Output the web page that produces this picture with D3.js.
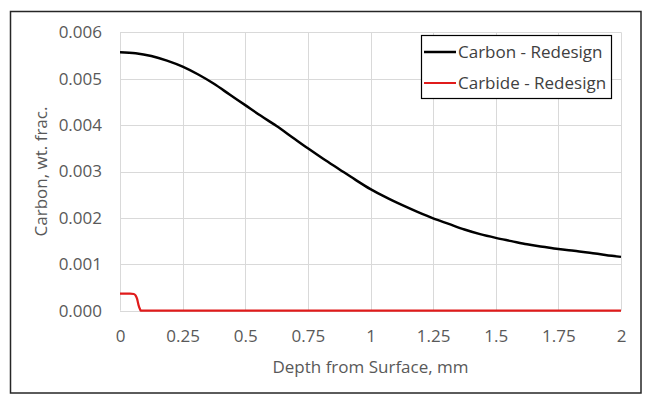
<!DOCTYPE html>
<html><head><meta charset="utf-8">
<script src="https://cdn.jsdelivr.net/npm/d3@7"></script>
<style>
html,body{margin:0;padding:0;background:#fff;}
svg{display:block;}
text{font-family:"Open Sans","Noto Sans",sans-serif;}
</style></head>
<body><svg id="chart" width="647" height="399"></svg>
<script>
const carbonDepth = [0, 0.0625, 0.125, 0.1875, 0.25, 0.3125, 0.375, 0.4375, 0.5, 0.5625, 0.625, 0.6875, 0.75, 0.8125, 0.875, 0.9375, 1.0, 1.0625, 1.125, 1.1875, 1.25, 1.3125, 1.375, 1.4375, 1.5, 1.5625, 1.625, 1.6875, 1.75, 1.8125, 1.875, 1.9375, 2.0];
const carbonValue = [0.00557, 0.00555, 0.00549, 0.00539, 0.00526, 0.00509, 0.00489, 0.00466, 0.00443, 0.00420, 0.00398, 0.00374, 0.00350, 0.00327, 0.00305, 0.00283, 0.00262, 0.00244, 0.00228, 0.00213, 0.00199, 0.00187, 0.00175, 0.00165, 0.00157, 0.00150, 0.00143, 0.00138, 0.00133, 0.00129, 0.00125, 0.00120, 0.00116];
const carbideDepth = [0, 0.04, 0.055, 0.062, 0.068, 0.074, 0.08, 0.083, 0.2, 1.0, 2.0];
const carbideValue = [0.00037, 0.00037, 0.00036, 0.00033, 0.00026, 0.00012, 0.00003, 0, 0, 0, 0];
const xTicks = [0, 0.25, 0.5, 0.75, 1, 1.25, 1.5, 1.75, 2];
const yTicks = [0, 0.001, 0.002, 0.003, 0.004, 0.005, 0.006];
const seriesNames = ["Carbon - Redesign", "Carbide - Redesign"];
const seriesColors = ["#000000", "#e01b1b"];
const xTitle = "Depth from Surface, mm";
const yTitle = "Carbon, wt. frac.";

const svg = d3.select("#chart");
const W = 647, H = 399;
const m = {left:120, right:26, top:32.3, bottom:88.3};
const iw = W - m.left - m.right, ih = H - m.top - m.bottom;
const FS = "17px";

svg.append("rect").attr("x",10.5).attr("y",11.5).attr("width",630.5).attr("height",381.5)
  .attr("fill","#fff").attr("stroke","#262626").attr("stroke-width",1.5);

const x = d3.scaleLinear().domain([0,2]).range([m.left, m.left+iw]);
const y = d3.scaleLinear().domain([0,0.006]).range([m.top+ih, m.top]);

const g = svg.append("g");
g.selectAll(".hg").data(yTicks).join("line")
  .attr("x1",x(0)).attr("x2",x(2)).attr("y1",d=>Math.round(y(d))+0.5).attr("y2",d=>Math.round(y(d))+0.5)
  .attr("stroke","#d9d9d9").attr("stroke-width",1);
g.selectAll(".vg").data(xTicks).join("line")
  .attr("y1",y(0)).attr("y2",y(0.006)).attr("x1",d=>Math.round(x(d))+0.5).attr("x2",d=>Math.round(x(d))+0.5)
  .attr("stroke","#d9d9d9").attr("stroke-width",1);

const fmtX = d => d3.format("")(d);
const xAxis = svg.append("g").attr("transform",`translate(0,${y(0)})`)
  .call(d3.axisBottom(x).tickValues(xTicks).tickFormat(fmtX).tickSize(0).tickPadding(19));
xAxis.select(".domain").remove();
xAxis.selectAll("text").attr("fill","#595959").attr("font-size",FS).attr("font-family","Open Sans");

const yAxis = svg.append("g").attr("transform",`translate(${x(0)},0)`)
  .call(d3.axisLeft(y).tickValues(yTicks).tickFormat(d3.format(".3f")).tickSize(0).tickPadding(18));
yAxis.select(".domain").remove();
yAxis.selectAll("text").attr("fill","#595959").attr("font-size",FS).attr("font-family","Open Sans");

svg.append("text").attr("x",(x(0)+x(2))/2).attr("y",373).attr("text-anchor","middle")
  .attr("fill","#595959").attr("font-size",FS).text(xTitle);
svg.append("text").attr("transform",`translate(47,${(y(0)+y(0.006))/2}) rotate(-90)`).attr("text-anchor","middle")
  .attr("fill","#595959").attr("font-size",FS).text(yTitle);

const line = d3.line().x(d=>x(d[0])).y(d=>y(d[1])).curve(d3.curveMonotoneX);
svg.append("path").datum(carbideDepth.map((d,i)=>[d,carbideValue[i]]))
  .attr("d",line).attr("fill","none").attr("stroke",seriesColors[1]).attr("stroke-width",2.2);
svg.append("path").datum(carbonDepth.map((d,i)=>[d,carbonValue[i]]))
  .attr("d",line).attr("fill","none").attr("stroke",seriesColors[0]).attr("stroke-width",2.5);

const lg = svg.append("g");
lg.append("rect").attr("x",421.5).attr("y",35.5).attr("width",190).attr("height",63)
  .attr("fill","#fff").attr("stroke","#000").attr("stroke-width",1.2);
seriesNames.forEach((n,i)=>{
  const cy = 52 + i*31;
  lg.append("line").attr("x1",424).attr("x2",456).attr("y1",cy).attr("y2",cy)
    .attr("stroke",seriesColors[i]).attr("stroke-width",i===0?2.5:2);
  lg.append("text").attr("x",458).attr("y",cy+6).attr("fill","#404040").attr("font-size",FS).text(n);
});
</script></body></html>
